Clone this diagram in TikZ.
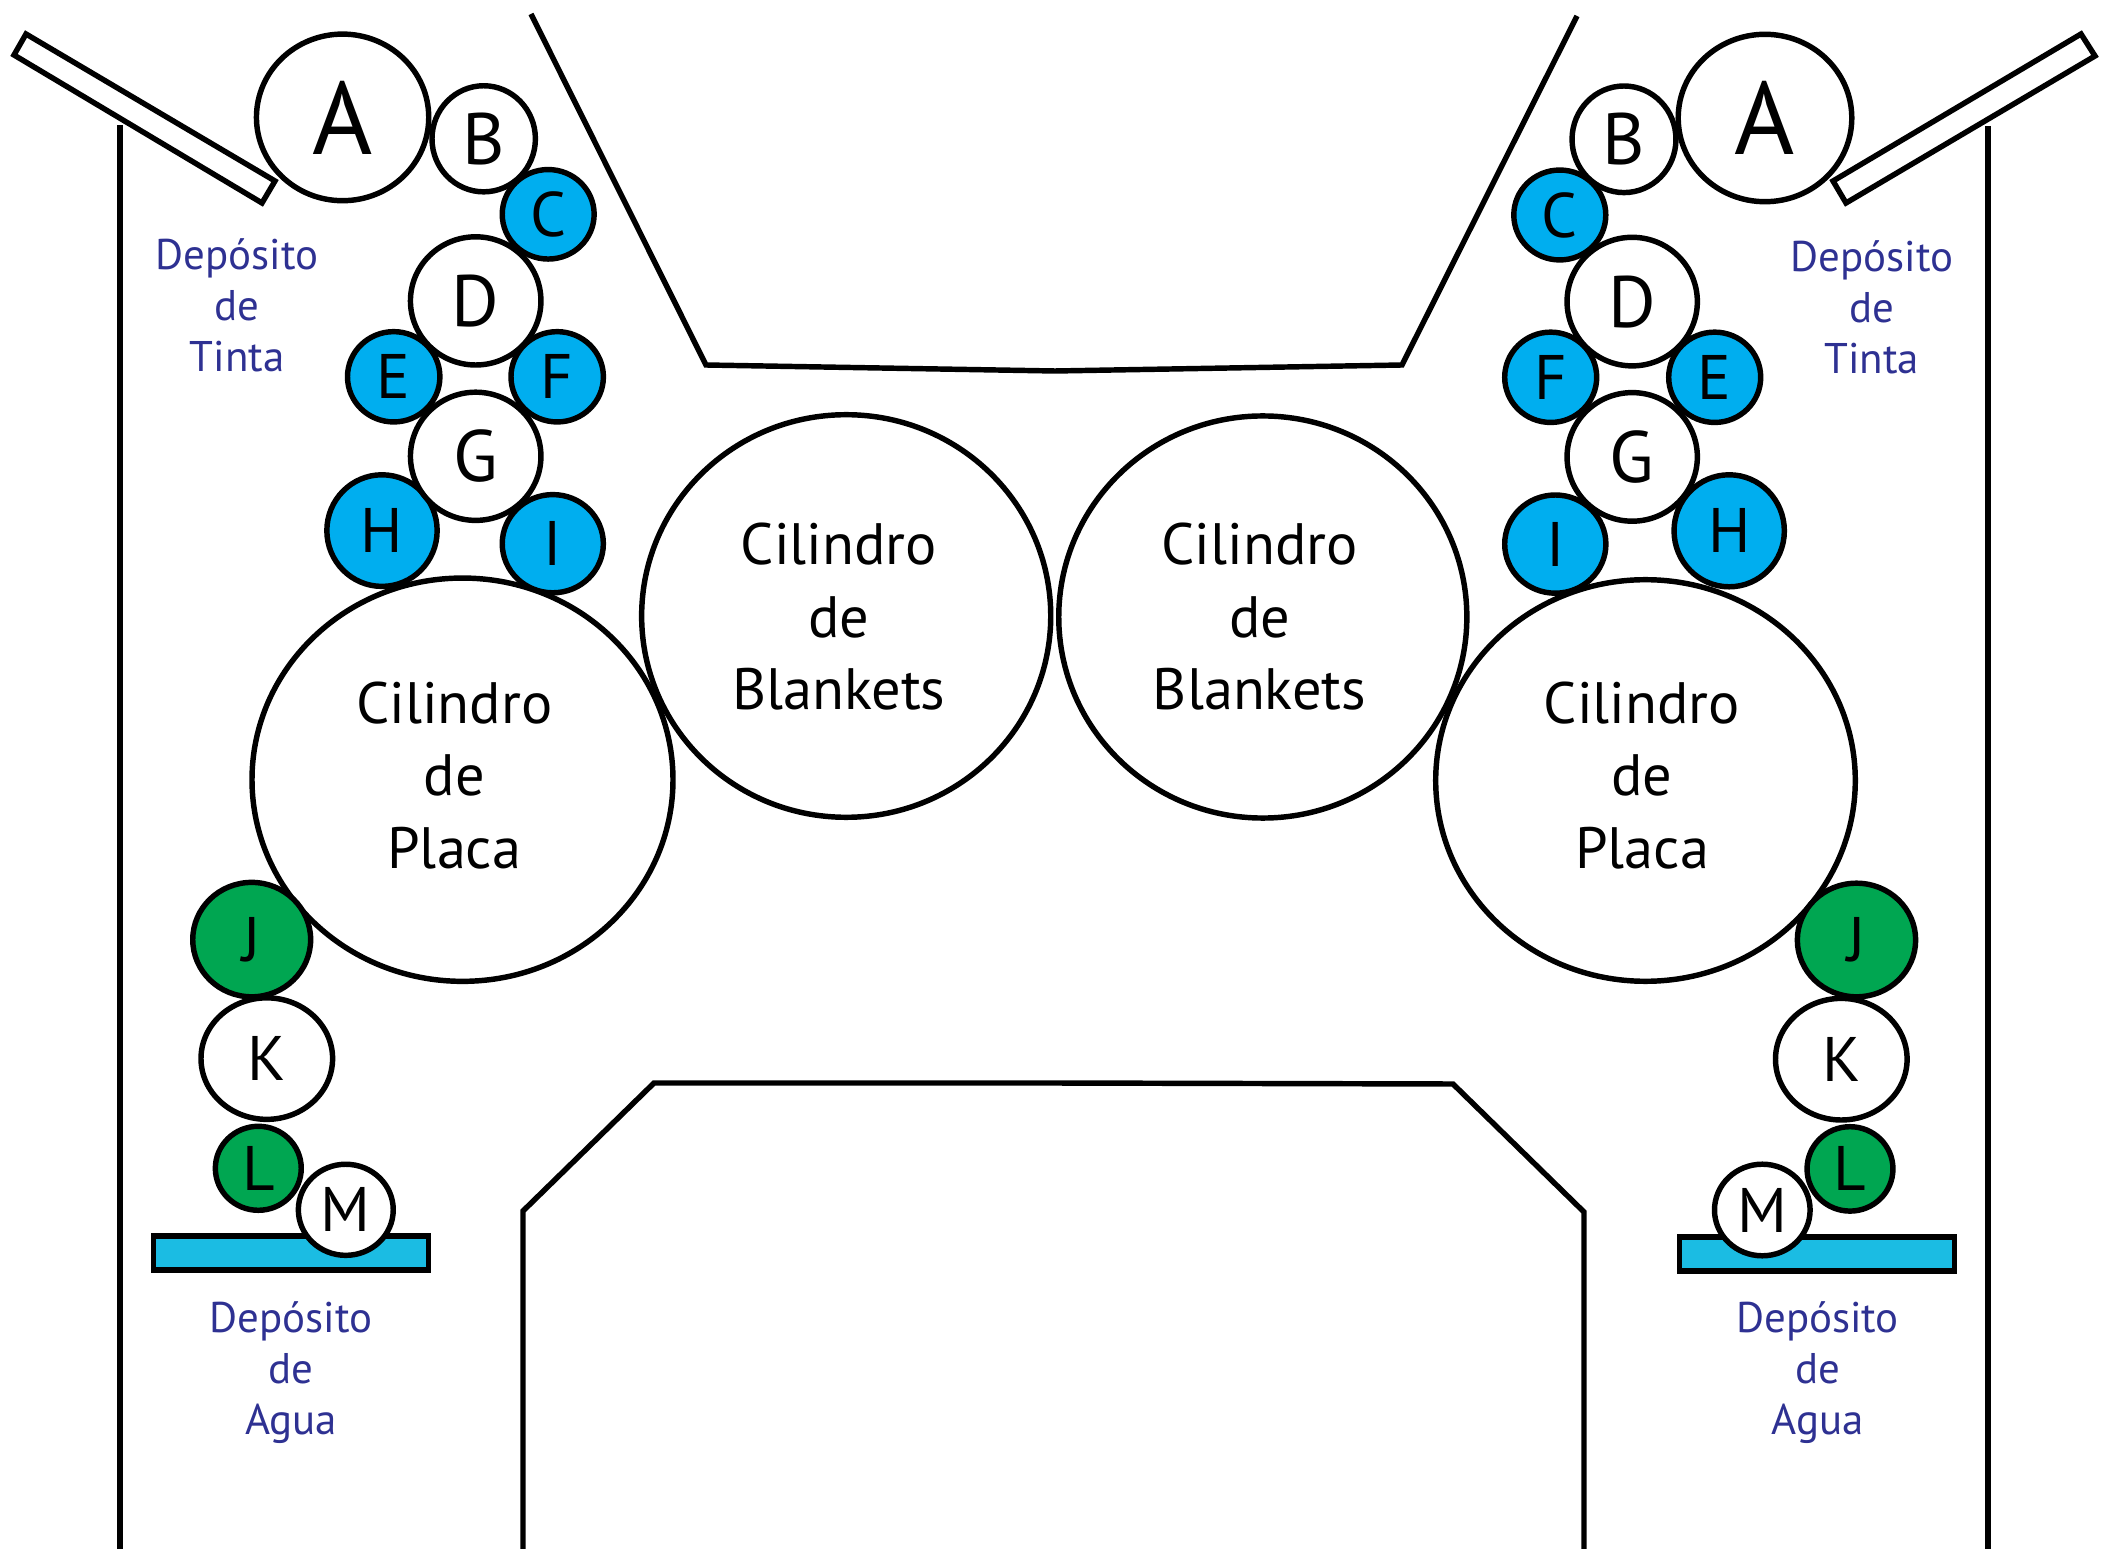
\documentclass[tikz,border=0pt]{standalone}
\usepackage{fontspec}
\setmainfont{PT Sans}
\usepackage{xcolor}
\usetikzlibrary{shapes.geometric}

\definecolor{inkblue}{HTML}{00AEEF}
\definecolor{rollgreen}{HTML}{00A651}
\definecolor{waterblue}{HTML}{1BBCE3}
\definecolor{labelblue}{HTML}{2E3192}

\tikzset{
    part/.style={line width=1.55pt, line join=miter},
    roller/.style 2 args={draw, line width=1.55pt, ellipse, inner sep=0pt, fill=white, minimum width=(#1-5.4)*0.01cm, minimum height=(#2-5.4)*0.01cm, font=\fontsize{17.9}{20}\selectfont},
    rollerbig/.style={font=\fontsize{20.7}{24}\selectfont},
    cylindertext/.style={align=center, inner sep=0pt, font=\fontsize{16.6}{20.6}\selectfont},
    tanktext/.style={align=center, inner sep=0pt, text=labelblue, font=\fontsize{12.2}{14.5}\selectfont},
    watertank/.style={draw, line width=1.55pt, rectangle, inner sep=0pt, fill=waterblue, minimum width=275.2*0.01cm, minimum height=34*0.01cm}
}

\begin{document}
\begin{tikzpicture}[x=0.01cm, y=-0.01cm]
    \useasboundingbox (0,0) rectangle (2114,1549);

    % machine frame
    \draw[part] (531,14) -- (706,365) -- (1055,371) -- (1402,365) -- (1577,16);
    \draw[part] (523,1549) -- (523,1211) -- (654,1083) -- (1053,1083) -- (1453,1084) -- (1584,1212) -- (1584,1549);
    \draw[part] (120,125) -- (120,1549);
    \draw[part] (1988,126) -- (1988,1549);

    % ink trays
    \draw[part, fill=white] (26,34) -- (275,181) -- (262,203) -- (14,55) -- cycle;
    \draw[part, fill=white] (2081,34) -- (2095,56) -- (1846,203) -- (1833,181) -- cycle;

    % left side
    \node[roller={177.7}{172}, font=\fontsize{29.3}{32}\selectfont] (aleft) at (342.6,117.4) {A};
    \node[roller={108.8}{111.5}, rollerbig] (bleft) at (483.7,138.8) {B};
    \node[roller={97.3}{94.9}, fill=inkblue] (cleft) at (548.2,214.3) {C};
    \node[roller={97.8}{95.7}, fill=inkblue] (eleft) at (393.7,376.8) {E};
    \node[roller={97.8}{95.7}, fill=inkblue] (fleft) at (557.2,376.8) {F};
    \node[roller={115.7}{117}, fill=inkblue] (hleft) at (382,530.6) {H};
    \node[roller={106.5}{103.6}, fill=inkblue] (ileft) at (552.8,543.7) {I};
    \node[roller={135.9}{133.6}, rollerbig] (dleft) at (475.7,300.9) {D};
    \node[roller={135.9}{133.6}, rollerbig] (gleft) at (475.7,456.3) {G};

    \node[roller={414.5}{408}] (blanketleft) at (846.2,616) {};
    \node[roller={426.4}{408.7}] (placaleft) at (462.5,779.7) {};
    \node[cylindertext] (blanketlefttext) at (838.8,617) {Cilindro\\de\\Blankets};
    \node[cylindertext] (placalefttext) at (454.3,775.5) {Cilindro\\de\\Placa};

    \node[watertank] (waterleft) at (291,1253.2) {};
    \node[roller={137}{126.9}] (kleft) at (266.8,1058.6) {K};
    \node[roller={123.3}{119.8}, fill=rollgreen] (jleft) at (251.7,939.6) {J};
    \node[roller={91.3}{89.4}, fill=rollgreen] (lleft) at (258.3,1168.3) {L};
    \node[roller={100.3}{96.5}] (mleft) at (345.8,1209.8) {M};

    \node[tanktext] (tintaleft) at (237,305) {Depósito\\de\\Tinta};
    \node[tanktext] (agualeft) at (291,1373) {Depósito\\de\\Agua};

    % right side
    \node[roller={179}{172.8}, font=\fontsize{29.3}{32}\selectfont] (aright) at (1765,118) {A};
    \node[roller={109.3}{112}, rollerbig] (bright) at (1624,139.3) {B};
    \node[roller={97.4}{95.3}, fill=inkblue] (cright) at (1559.8,215) {C};
    \node[roller={97.4}{95.7}, fill=inkblue] (fright) at (1550.7,377.3) {F};
    \node[roller={97.4}{95.7}, fill=inkblue] (eright) at (1714.7,377.3) {E};
    \node[roller={106.6}{103.6}, fill=inkblue] (iright) at (1555.3,544.1) {I};
    \node[roller={115.7}{117.4}, fill=inkblue] (hright) at (1729.2,530.8) {H};
    \node[roller={135.7}{134}, rollerbig] (dright) at (1632.2,301.6) {D};
    \node[roller={135.7}{134}, rollerbig] (gright) at (1632.2,456.9) {G};

    \node[roller={413.5}{407.5}] (blanketright) at (1262.8,617) {};
    \node[roller={425}{407}] (placaright) at (1645.5,780.5) {};
    \node[cylindertext] (blanketrighttext) at (1259.6,617) {Cilindro\\de\\Blankets};
    \node[cylindertext] (placarighttext) at (1642,775.5) {Cilindro\\de\\Placa};

    \node[watertank] (waterright) at (1817,1253.9) {};
    \node[roller={137}{127}] (kright) at (1841.3,1059.2) {K};
    \node[roller={123.7}{119}, fill=rollgreen] (jright) at (1856.5,940) {J};
    \node[roller={91.3}{89.8}, fill=rollgreen] (lright) at (1850,1168.9) {L};
    \node[roller={101}{97}] (mright) at (1762.3,1210) {M};

    \node[tanktext] (tintaright) at (1871.8,307) {Depósito\\de\\Tinta};
    \node[tanktext] (aguaright) at (1817.5,1373) {Depósito\\de\\Agua};

\end{tikzpicture}
\end{document}
